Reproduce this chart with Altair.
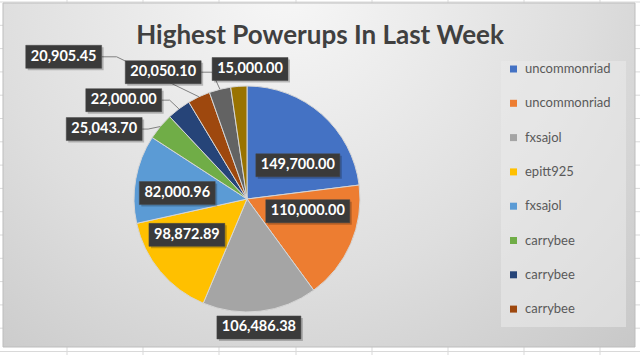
import math
import altair as alt
import pandas as pd

# ---------------- data ----------------
values = [149700.00, 110000.00, 106486.38, 98872.89, 82000.96,
          25043.70, 22000.00, 20905.45, 20050.10, 15000.00]
value_labels = ["149,700.00", "110,000.00", "106,486.38", "98,872.89", "82,000.96",
                "25,043.70", "22,000.00", "20,905.45", "20,050.10", "15,000.00"]
legend_names = ["uncommonriad", "uncommonriad", "fxsajol", "epitt925", "fxsajol",
                "carrybee", "carrybee", "carrybee"]
colors = ["#4472C4", "#ED7D31", "#A5A5A5", "#FFC000", "#5B9BD5",
          "#70AD47", "#264478", "#9E480E", "#636363", "#997300"]
title_text = "Highest Powerups In Last Week"

# ---------------- layout (label placement, not data) ----------------
W, H = 640, 355
CX, CY, R = 247, 199, 113
label_nudge_deg = [15, -12, 1.4, 9, -5.4, -13.8, -14.2, -27, -19.6, 5.5]
label_radius = [61, 62, 129, 70, 70, 159, 158, 232, 152, 130]
has_leader = [0, 0, 0, 0, 0, 1, 1, 1, 1, 0]
elbow = [0, 0, 0, 0, 0, 6, 8, 15, 11, 0]
FONT = "Lato"

ids = [str(i) for i in range(len(values))]
total = sum(values)

rows, leader_rows = [], []
cum = 0.0
for i, v in enumerate(values):
    a0 = cum / total * 360
    cum += v
    a1 = cum / total * 360
    mid = (a0 + a1) / 2
    ang = math.radians(mid + label_nudge_deg[i])
    lx = CX + label_radius[i] * math.sin(ang)
    ly = CY - label_radius[i] * math.cos(ang)
    txt = value_labels[i]
    nd = sum(c.isdigit() for c in txt)
    bw = nd * 8.1 + (len(txt) - nd) * 3.6 + 12
    bh = 23
    rows.append(dict(id=ids[i], idx=i, value=v, label=txt, lx=lx, ly=ly,
                     bx1=lx - bw / 2, bx2=lx + bw / 2, by1=ly - bh / 2, by2=ly + bh / 2,
                     sx1=lx - bw / 2 + 2, sx2=lx + bw / 2 + 2, sy1=ly - bh / 2 + 2, sy2=ly + bh / 2 + 2))
    if has_leader[i]:
        ex = CX + R * math.sin(math.radians(mid))
        ey = CY - R * math.cos(math.radians(mid))
        sx = lx + bw / 2
        leader_rows += [dict(id=ids[i], o=0, px=sx, py=ly),
                        dict(id=ids[i], o=1, px=sx + elbow[i], py=ly),
                        dict(id=ids[i], o=2, px=ex, py=ey)]

df = pd.DataFrame(rows)
ldf = pd.DataFrame(leader_rows)

xs = alt.Scale(domain=[0, W], nice=False, zero=False)
ys = alt.Scale(domain=[0, H], nice=False, zero=False, reverse=True)

# spreadsheet grid (background)
grid_cols = [67, 143, 219, 296, 372, 448, 524, 600]
grid_rows = [2 + 23.3 * k for k in range(16)]
vgrid = alt.Chart(pd.DataFrame({"gx": grid_cols})).mark_rule(color="#d9d9d9", strokeWidth=1).encode(
    x=alt.X("gx:Q", scale=xs, axis=None), y=alt.value(0), y2=alt.value(H))
hgrid = alt.Chart(pd.DataFrame({"gy": grid_rows})).mark_rule(color="#d9d9d9", strokeWidth=1).encode(
    y=alt.Y("gy:Q", scale=ys, axis=None), x=alt.value(0), x2=alt.value(W))

bg_grad = alt.RadialGradient(
    gradient="radial", x1=0.45, y1=0.2, r1=0.0, x2=0.45, y2=0.2, r2=0.85,
    stops=[alt.GradientStop(offset=0, color="#f7f7f7"),
           alt.GradientStop(offset=0.55, color="#dedede"),
           alt.GradientStop(offset=1, color="#c4c4c4")])
chart_area = alt.Chart(pd.DataFrame({"a": [0]})).mark_rect(
    fill=bg_grad, stroke="#bdbdbd", strokeWidth=1).encode(
    x=alt.value(3), x2=alt.value(635), y=alt.value(3), y2=alt.value(347))

legend_box = alt.Chart(pd.DataFrame({"a": [0]})).mark_rect(
    fill="#ebebeb", fillOpacity=0.55).encode(
    x=alt.value(501), x2=alt.value(626), y=alt.value(61), y2=alt.value(327))

title = alt.Chart(pd.DataFrame({"t": [title_text]})).mark_text(
    font=FONT, fontSize=26, fontWeight="bold", color="#404040", align="center", baseline="middle").encode(
    text="t:N", x=alt.value(320), y=alt.value(36))

names_js = "[" + ",".join("'" + n + "'" for n in legend_names) + "]"
pie = alt.Chart(df).mark_arc(radius=R, stroke="#d6d6d6", strokeWidth=1).encode(
    theta=alt.Theta("value:Q", stack=True),
    color=alt.Color("id:N", scale=alt.Scale(domain=ids, range=colors),
                    legend=alt.Legend(orient="none", legendX=507, legendY=62.5,
                                      values=ids[:8], labelExpr=names_js + "[toNumber(datum.value)]",
                                      symbolType="square", symbolSize=49, symbolStrokeWidth=0,
                                      labelFont=FONT, labelFontSize=13, labelColor="#595959",
                                      rowPadding=20.3, labelOffset=5, padding=0, title=None)),
    order=alt.Order("idx:Q"),
    x=alt.value(CX), y=alt.value(CY))

leaders = alt.Chart(ldf).mark_line(color="#808080", strokeWidth=1).encode(
    x=alt.X("px:Q", scale=xs, axis=None), y=alt.Y("py:Q", scale=ys, axis=None),
    detail="id:N", order="o:Q")

shadows = alt.Chart(df).mark_rect(fill="#000000", opacity=0.22).encode(
    x=alt.X("sx1:Q", scale=xs, axis=None), x2="sx2:Q",
    y=alt.Y("sy1:Q", scale=ys, axis=None), y2="sy2:Q")
boxes = alt.Chart(df).mark_rect(fill="#3a3a3a", stroke="#4a4a4a", strokeWidth=0.5).encode(
    x=alt.X("bx1:Q", scale=xs, axis=None), x2="bx2:Q",
    y=alt.Y("by1:Q", scale=ys, axis=None), y2="by2:Q")
texts = alt.Chart(df).mark_text(font=FONT, fontSize=14.5, fontWeight="bold", color="white",
                                align="center", baseline="middle").encode(
    x=alt.X("lx:Q", scale=xs, axis=None), y=alt.Y("ly:Q", scale=ys, axis=None), text="label:N")

chart = alt.layer(vgrid, hgrid, chart_area, legend_box, title, pie, leaders, shadows, boxes, texts).properties(
    width=W, height=H, padding=0, autosize=alt.AutoSizeParams(type="none"), background="white"
).configure_view(stroke=None)

chart.save("out.html", embed_options={"renderer": "svg", "actions": False})
